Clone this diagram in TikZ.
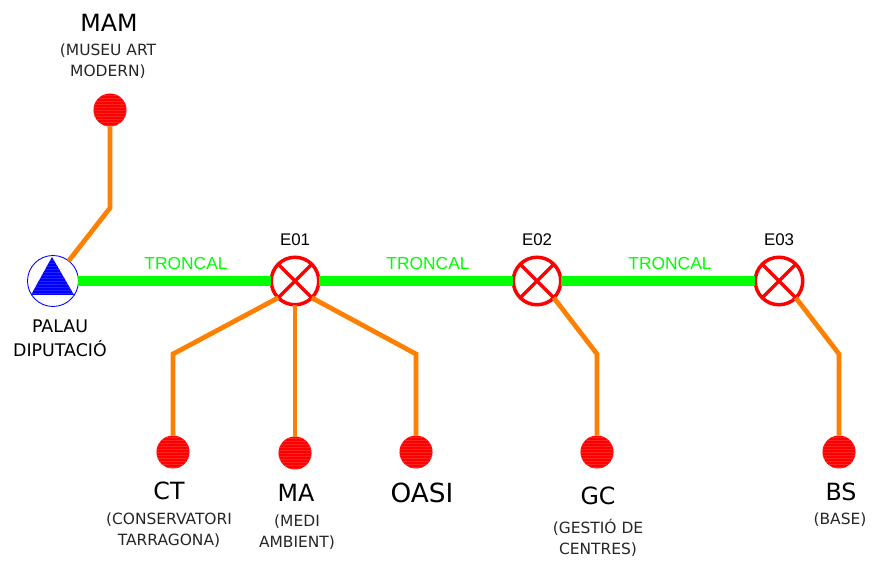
\documentclass[tikz,border=0pt]{standalone}
\usepackage{fontspec}
\setmainfont{DejaVu Sans}
\newfontfamily\arialfont{Liberation Sans}
\usepackage{tikz}
\usetikzlibrary{positioning, calc}

\definecolor{linkorange}{RGB}{255,128,0}
\definecolor{trunkgreen}{RGB}{0,255,0}

\tikzset{
  enduser/.style={circle, fill=red, minimum size=0.66cm, inner sep=0pt, outer sep=0pt,
    path picture={
      \foreach \k in {-15,-12,...,15}
        \draw[red!86!white, line width=0.25pt]
          ($(path picture bounding box.center)+(-20,\k)$) -- ++(40,0);
    }},
  station/.style={circle, draw=red, line width=0.07cm, fill=white, minimum size=0.95cm,
    inner sep=0pt, outer sep=0pt,
    path picture={
      \draw[red, line width=0.07cm] (path picture bounding box.north west) -- (path picture bounding box.south east);
      \draw[red, line width=0.07cm] (path picture bounding box.south west) -- (path picture bounding box.north east);
    }},
  hub/.style={circle, draw=blue, line width=0.5pt, minimum size=1.02cm, inner sep=0pt, outer sep=0pt},
  trunk/.style={draw=trunkgreen, line width=0.19cm},
  link/.style={draw=linkorange, line width=0.095cm, line join=miter},
  bigname/.style={font=\fontsize{13.5}{16}\selectfont, text=black},
  subname/.style={font=\fontsize{8.8}{12}\selectfont, align=center, text=black!85},
  stationname/.style={font=\arialfont\fontsize{9.6}{12}\selectfont},
  trunkname/.style={font=\arialfont\fontsize{9.9}{12}\selectfont, text=trunkgreen}
}

\begin{document}
\begin{tikzpicture}[x=0.02cm, y=-0.02cm]
\useasboundingbox (0,0) rectangle (874,563);

% Main nodes
\node[hub] (palau) at (53,281) {};
\node[station] (e01) at (295,281) {};
\node[station] (e02) at (537,281) {};
\node[station] (e03) at (779,281) {};

% Triangle inside the hub
\fill[blue] (52,257) -- (31,295) -- (74,295) -- cycle;
\begin{scope}
\clip (52,257) -- (31,295) -- (74,295) -- cycle;
\foreach \k in {260,263,...,293}
  \draw[blue!86!white, line width=0.25pt] (30,\k) -- (75,\k);
\end{scope}

% End users
\node[enduser] (mam) at (110,110) {};
\node[enduser] (ct) at (173,452) {};
\node[enduser] (ma) at (295,453) {};
\node[enduser] (oasi) at (416,452) {};
\node[enduser] (gc) at (597,452) {};
\node[enduser] (bs) at (839,452) {};

% Bends
\coordinate (bendmam) at (110,208);
\coordinate (bendct) at (173,354);
\coordinate (bendoasi) at (416,354);
\coordinate (bendgc) at (597,354);
\coordinate (bendbs) at (839,354);

% Trunk
\draw[trunk] (palau) -- (e01);
\draw[trunk] (e01) -- (e02);
\draw[trunk] (e02) -- (e03);

% Links
\draw[link] (palau.52) -- (bendmam) -- (mam);
\draw[link] (e01.south west) -- (bendct) -- (ct);
\draw[link] (e01) -- (ma);
\draw[link] (e01.south east) -- (bendoasi) -- (oasi);
\draw[link] (e02.south east) -- (bendgc) -- (gc);
\draw[link] (e03.south east) -- (bendbs) -- (bs);

% Trunk labels
\node[trunkname] (tr1) at (186,264) {TRONCAL};
\node[trunkname] (tr2) at (428,264) {TRONCAL};
\node[trunkname] (tr3) at (670,264) {TRONCAL};

% Station labels
\node[stationname] (le01) at (295,240) {E01};
\node[stationname] (le02) at (537,240) {E02};
\node[stationname] (le03) at (779,240) {E03};

% Names
\node[subname, font=\fontsize{9.9}{13.6}\selectfont, text=black] (lpalau) at (60,338) {PALAU\\DIPUTACIÓ};
\node[bigname] (lmam) at (109,23) {MAM};
\node[subname] (smam) at (108,61) {(MUSEU ART\\MODERN)};
\node[bigname] (lct) at (169,491) {CT};
\node[subname] (sct) at (169,530) {(CONSERVATORI\\TARRAGONA)};
\node[bigname] (lma) at (296,493) {MA};
\node[subname] (sma) at (297,532) {(MEDI\\AMBIENT)};
\node[bigname, font=\fontsize{15}{16}\selectfont] (loasi) at (422,493) {OASI};
\node[bigname] (lgc) at (598,496) {GC};
\node[subname] (sgc) at (598,538) {(GESTIÓ DE\\CENTRES)};
\node[bigname] (lbs) at (841,492) {BS};
\node[subname] (sbs) at (840,520) {(BASE)};
\end{tikzpicture}
\end{document}
